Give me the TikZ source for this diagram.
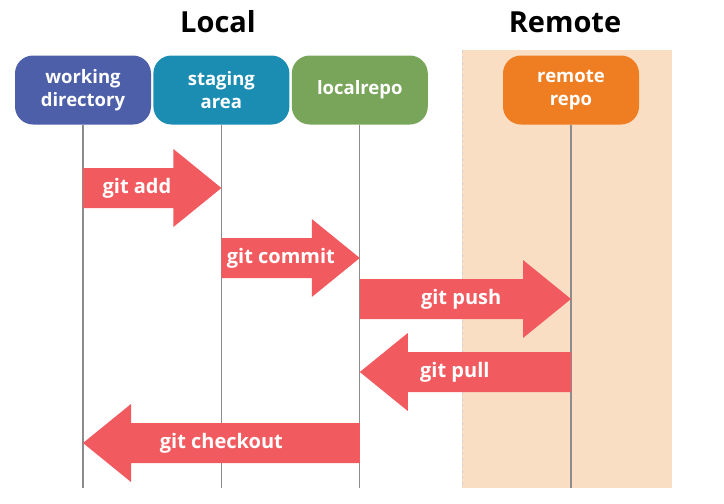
\documentclass[tikz,border=0pt]{standalone}
\usepackage{fontspec}
\setmainfont{Open Sans}
\usetikzlibrary{positioning,calc}
\definecolor{workblue}{HTML}{4C5FA8}
\definecolor{stageblue}{HTML}{1B8DB3}
\definecolor{repogreen}{HTML}{78A55A}
\definecolor{remoteorange}{HTML}{EF7D22}
\definecolor{arrowred}{HTML}{F15A5F}
\definecolor{peach}{HTML}{FADEC3}
\definecolor{linegray}{HTML}{8C8C8C}
\tikzset{stage/.style={
            rounded corners=18pt,
            minimum width=136pt,
            minimum height=69pt,
            inner sep=0pt,
            text=white,
            align=center,
            font=\bfseries\fontsize{18.5}{23}\selectfont
        },
        header/.style={
            font=\bfseries\fontsize{29}{34}\selectfont
        },
        lifeline/.style={
            draw=linegray,
            line width=1.2pt
        },
        cmd/.style={
            text=white,
            font=\bfseries\fontsize{20}{24}\selectfont
        },
        gitarrow/.style={
            fill=arrowred,
            to path={let \p1=(\tikztostart), \p2=(\tikztotarget), \n1={sign(\x2-\x1)} in
                (\x1,\y1-20pt) -- (\x2-\n1*48pt,\y1-20pt) -- (\x2-\n1*48pt,\y1-39pt) -- (\x2,\y1)
                -- (\x2-\n1*48pt,\y1+39pt) -- (\x2-\n1*48pt,\y1+20pt) -- (\x1,\y1+20pt) -- cycle
                (\tikztostart) -- (\tikztotarget) \tikztonodes}
        }
    }
\begin{document}
\begin{tikzpicture}[x=1pt,y=-1pt]
        \useasboundingbox (0,0) rectangle (724,504);

        % remote side
        \fill[peach] (462,50) rectangle (672,488);
        \draw[dashed,gray!35] (462,50) -- (462,488);

        \node[header] (localtitle) at (218,22) {Local};
        \node[header] (remotetitle) at (565,22) {Remote};

        \node[stage,fill=workblue] (working) at (83,90) {working\\directory};
        \node[stage,fill=stageblue,right=2pt of working] (staging) {staging\\area};
        \node[stage,fill=repogreen,right=2pt of staging] (localrepo) {localrepo};
        \node[stage,fill=remoteorange] (remote) at (571,90) {remote\\repo};

        \foreach \s in {working,staging,localrepo,remote}{
            \coordinate (\s-end) at (\s.south |- 0,488);
            \draw[lifeline] (\s.south) -- (\s-end);
        }

        % commands
        \coordinate (add-s) at (working.south |- 0,188);
        \coordinate (add-e) at (staging.south |- 0,188);
        \coordinate (commit-s) at (staging.south |- 0,258);
        \coordinate (commit-e) at (localrepo.south |- 0,258);
        \coordinate (push-s) at (localrepo.south |- 0,299);
        \coordinate (push-e) at (remote.south |- 0,299);
        \coordinate (pull-s) at (remote.south |- 0,372);
        \coordinate (pull-e) at (localrepo.south |- 0,372);
        \coordinate (checkout-s) at (localrepo.south |- 0,443);
        \coordinate (checkout-e) at (working.south |- 0,443);

        \path[gitarrow] (add-s) to node[cmd,pos=0.39] {git add} (add-e);
        \path[gitarrow] (commit-s) to node[cmd,pos=0.43] {git commit} (commit-e);
        \path[gitarrow] (push-s) to node[cmd,pos=0.48] {git push} (push-e);
        \path[gitarrow] (pull-s) to node[cmd,pos=0.55] {git pull} (pull-e);
        \path[gitarrow] (checkout-s) to node[cmd,pos=0.5] {git checkout} (checkout-e);

    \end{tikzpicture}
\end{document}
